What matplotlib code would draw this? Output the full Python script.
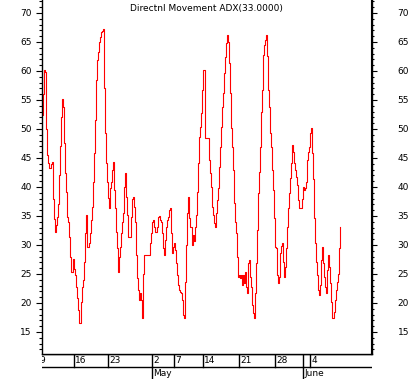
import matplotlib
matplotlib.use("Agg")
import matplotlib.pyplot as plt
from matplotlib.ticker import MultipleLocator

title = "Directnl Movement ADX(33.0000)"

adx = [
    52.4, 56.0, 60.2, 59.8, 50.0, 45.5, 44.1, 43.3, 43.3, 44.0,
    44.3, 38.0, 34.5, 32.3, 33.5, 34.8, 37.0, 42.0, 47.0, 52.0,
    55.1, 53.8, 47.6, 42.4, 39.2, 34.8, 34.0, 31.4, 28.0, 25.3,
    25.3, 27.6, 25.8, 24.8, 22.8, 20.8, 18.8, 16.6, 16.5, 20.2,
    22.8, 24.0, 27.1, 32.0, 35.2, 29.7, 29.7, 30.3, 32.0, 34.3,
    36.6, 40.9, 45.9, 51.6, 58.4, 61.9, 63.3, 65.0, 65.9, 66.7,
    66.9, 67.2, 57.1, 49.3, 44.1, 40.9, 38.1, 36.4, 39.8, 40.9,
    42.9, 44.3, 39.5, 36.4, 32.3, 29.4, 25.4, 28.0, 29.6, 32.0,
    34.0, 35.5, 40.0, 42.4, 38.3, 35.2, 31.4, 31.3, 31.3, 34.8,
    38.0, 38.3, 36.6, 34.0, 28.3, 24.3, 22.2, 20.5, 21.7, 20.5,
    17.4, 25.0, 28.3, 28.3, 28.3, 28.3, 28.3, 28.3, 30.3, 32.0,
    34.0, 34.3, 33.1, 32.3, 32.3, 33.1, 34.8, 35.0, 34.3, 34.0,
    32.0, 29.4, 28.3, 30.9, 33.1, 34.3, 34.8, 36.0, 36.3, 32.0,
    28.6, 29.7, 30.3, 29.2, 26.9, 24.9, 23.1, 22.2, 21.9, 21.7,
    20.5, 17.9, 17.4, 23.6, 30.0, 35.5, 38.3, 34.6, 33.1, 33.1,
    30.0, 31.7, 30.6, 33.1, 35.2, 39.2, 44.1, 48.6, 50.4, 52.8,
    56.7, 60.2, 60.2, 48.4, 48.4, 48.4, 48.4, 44.7, 42.4, 40.0,
    36.6, 35.2, 33.8, 33.1, 35.5, 37.8, 39.8, 43.4, 46.9, 50.4,
    53.8, 56.2, 59.7, 62.4, 64.8, 66.2, 65.0, 61.4, 56.2, 50.2,
    46.9, 42.9, 37.2, 34.0, 32.0, 28.0, 24.5, 24.9, 24.3, 24.9,
    23.1, 24.9, 23.4, 25.4, 22.8, 21.7, 26.9, 27.4, 24.5, 22.8,
    19.7, 18.3, 17.4, 21.7, 26.9, 32.6, 39.0, 42.6, 46.9, 52.9,
    56.7, 62.8, 64.5, 65.4, 66.2, 62.6, 56.7, 53.8, 49.3, 46.9,
    42.9, 39.5, 34.6, 29.7, 29.4, 24.9, 23.4, 24.5, 28.6, 29.9,
    30.3, 27.1, 24.5, 26.2, 29.4, 33.1, 36.3, 39.0, 41.5, 44.1,
    47.2, 46.0, 44.1, 42.9, 41.7, 40.3, 37.8, 36.3, 36.3, 36.3,
    38.0, 40.0, 39.5, 39.8, 40.9, 44.7, 46.0, 46.9, 49.3, 50.2,
    45.8, 41.4, 34.6, 30.3, 27.1, 24.8, 22.2, 21.4, 23.1, 27.4,
    29.7, 26.9, 24.5, 22.8, 21.7, 25.7, 28.3, 26.2, 23.4, 20.2,
    17.4, 17.4, 18.5, 20.5, 22.2, 23.6, 25.0, 29.4, 33.1,
]

# date ticks (bar index where each date begins)
day_pos = [-4, 31.7, 66.3, 109.7, 131.7, 160.7, 196.7, 232.7, 261.3, 268.0]
day_lab = ["9", "16", "23", "2", "7", "14", "21", "28", "", "4"]
month_pos = [109.7, 261.3]
month_lab = ["May", "June"]

W, H = 412, 379
fig = plt.figure(figsize=(W / 100, H / 100), dpi=100)
fs = 6.5

x0, x1 = 42, 371.5
ybot = 354
ax = fig.add_axes([x0 / W, (H - ybot) / H, (x1 - x0) / W, ybot / H])
ax.plot(range(len(adx)), adx, color="#ff0000", lw=0.8, drawstyle="steps-mid")
ax.set_xlim(0, x1 - x0)
ax.set_ylim(11.2, 72.24)
ax.spines["top"].set_visible(False)
for s in ["left", "right", "bottom"]:
    ax.spines[s].set_linewidth(1.0)
ax.set_xticks([])
ax.yaxis.set_minor_locator(MultipleLocator(1))
ax.set_yticks(range(15, 71, 5))
ax.tick_params(axis="y", which="major", direction="out", length=4.3, width=0.8,
               labelsize=fs, pad=3)
ax.tick_params(axis="y", which="minor", direction="out", length=2.2, width=0.8)

ax2 = ax.twinx()
ax2.set_ylim(ax.get_ylim())
ax2.yaxis.set_minor_locator(MultipleLocator(1))
ax2.set_yticks(range(15, 71, 5))
ax2.tick_params(axis="y", which="major", direction="out", length=4.3, width=0.8,
                labelsize=fs, pad=14.5)
ax2.tick_params(axis="y", which="minor", direction="out", length=2.2, width=0.8)
for s in ["top", "left", "bottom"]:
    ax2.spines[s].set_visible(False)

ax.text(0.5, 1 - 8 / ybot, title, transform=ax.transAxes, fontsize=fs,
        ha="center", va="center")

# date band
band = fig.add_axes([x0 / W, 0, (x1 - x0) / W, (H - ybot) / H], sharex=ax)
band.set_ylim(0, 1)
band.axis("off")
mid = (H - 367) / (H - ybot)
band.axhline(mid, color="black", lw=1.0)
band.axhline(1.0, color="black", lw=1.0)
for p, lab in zip(day_pos, day_lab):
    band.plot([p, p], [mid, 1.0], color="black", lw=1.0, clip_on=True)
    band.text(p + 1.5, (mid + 1.0) / 2, lab, fontsize=fs, ha="left", va="center",
              clip_on=True)
for p, lab in zip(month_pos, month_lab):
    band.plot([p, p], [0, mid], color="black", lw=1.0)
    band.text(p + 1.5, mid / 2, lab, fontsize=fs, ha="left", va="center")

fig.savefig("out.png", dpi=100)
